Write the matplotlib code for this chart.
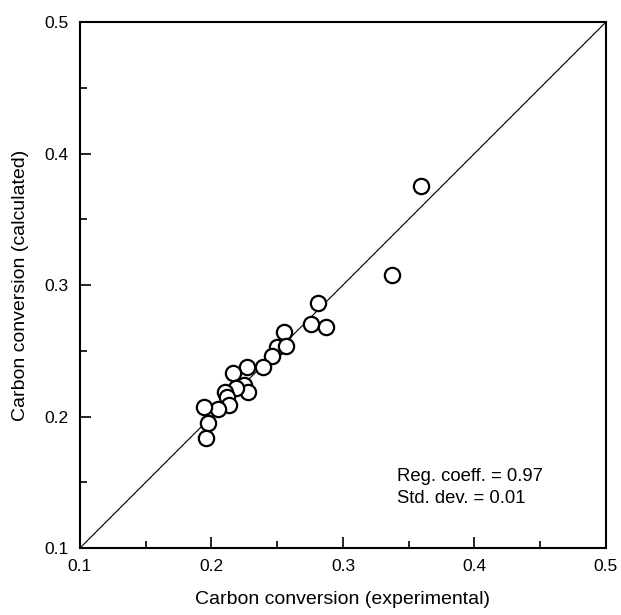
import numpy as np
import matplotlib
matplotlib.use("Agg")
import matplotlib.pyplot as plt
from matplotlib.ticker import MultipleLocator

plt.rcParams["font.family"] = ["Liberation Sans", "DejaVu Sans"]

# ===== Data =====
x_exp = [0.359, 0.337, 0.281, 0.276, 0.287, 0.255, 0.250, 0.257,
         0.246, 0.239, 0.227, 0.216, 0.225, 0.228, 0.219, 0.210,
         0.212, 0.213, 0.205, 0.194, 0.197, 0.196]
y_calc = [0.375, 0.308, 0.286, 0.270, 0.268, 0.264, 0.253, 0.254,
          0.246, 0.238, 0.238, 0.233, 0.224, 0.219, 0.222, 0.219,
          0.215, 0.209, 0.206, 0.207, 0.195, 0.184]
diag = [0.1, 0.5]
stats_text = "Reg. coeff. = 0.97\nStd. dev. = 0.01"

# ===== Plotting =====
fig = plt.figure(figsize=(6.21, 6.15), dpi=100)
ax = fig.add_axes([0.1288, 0.1089, 0.847, 0.8553])

ax.plot(diag, diag, color="black", linewidth=0.8)
ax.plot(x_exp, y_calc, linestyle="none", marker="o", markersize=11,
        markerfacecolor="white", markeredgecolor="black", markeredgewidth=1.6)

ax.set_xlim(0.1, 0.5)
ax.set_ylim(0.1, 0.5)
ax.xaxis.set_major_locator(MultipleLocator(0.1))
ax.xaxis.set_minor_locator(MultipleLocator(0.05))
ax.yaxis.set_major_locator(MultipleLocator(0.1))
ax.yaxis.set_minor_locator(MultipleLocator(0.05))
ax.tick_params(which="both", direction="in", width=1.2, labelsize=12.5,
               top=False, right=False, pad=8)
ax.tick_params(which="major", length=8)
ax.tick_params(which="minor", length=5)
for s in ax.spines.values():
    s.set_linewidth(1.5)

ax.set_xlabel("Carbon conversion (experimental)", fontsize=14, labelpad=12)
ax.set_ylabel("Carbon conversion (calculated)", fontsize=14, labelpad=11)
ax.text(0.603, 0.152, stats_text, transform=ax.transAxes, fontsize=13.3,
        va="top", ha="left", linespacing=1.35)

fig.savefig("out.png", dpi=100)
